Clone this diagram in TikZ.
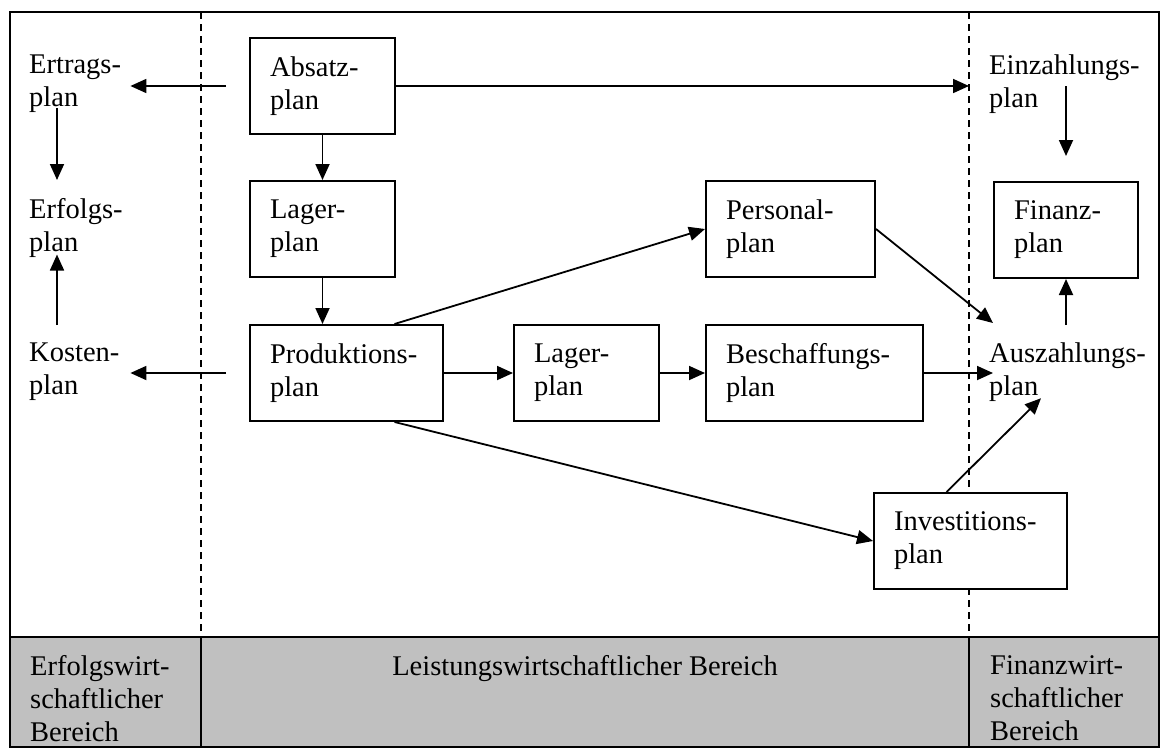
\documentclass[tikz,border=0pt]{standalone}
\usepackage{fontspec}
\setmainfont{Liberation Serif}
\usetikzlibrary{arrows.meta}
\definecolor{bandgray}{RGB}{192,192,192}

\begin{document}
\begin{tikzpicture}[x=1pt,y=-1pt,
  planbox/.style={draw,fill=white,line width=2pt,anchor=north west,align=left,inner xsep=20pt,inner ysep=0pt,
    minimum height=96pt,text width=#1pt,minimum width=#1pt+40pt,font=\fontsize{28.5}{33}\selectfont},
  planlabel/.style={anchor=north west,align=left,inner sep=0pt,text width=#1pt,font=\fontsize{28.5}{33}\selectfont},
  bandlabel/.style={anchor=north west,align=left,inner sep=0pt,font=\fontsize{28.5}{33}\selectfont},
  flow/.style={line width=1.8pt,-{Triangle[length=16pt,width=14pt]}},
  grenze/.style={line width=1.5pt,dash pattern=on 7pt off 5pt}]

\useasboundingbox (0,0) rectangle (1164,747);

\coordinate (linksoben) at (201,12);
\coordinate (linksband) at (201,637);
\coordinate (linksunten) at (201,747);
\coordinate (rechtsoben) at (969,12);
\coordinate (rechtsband) at (969,637);
\coordinate (rechtsunten) at (969,747);

\fill[bandgray] (10,637) rectangle (1159,747);
\draw[line width=2pt] (10,12) rectangle (1159,747);
\draw[line width=2pt] (10,637) -- (1159,637);
\draw[grenze] (linksoben) -- (linksband);
\draw[grenze] (rechtsoben) -- (rechtsband);
\draw[line width=2pt] (linksband) -- (linksunten);
\draw[line width=2pt] (rechtsband) -- (rechtsunten);

\node[planbox=105] (absatz) at (249,37) {Absatz-\\plan};
\node[planbox=105] (lager) at (249,180) {Lager-\\plan};
\node[planbox=153] (produktion) at (249,324) {Produktions-\\plan};
\node[planbox=105] (lagerzwei) at (513,324) {Lager-\\plan};
\node[planbox=177] (beschaffung) at (705,324) {Beschaffungs-\\plan};
\node[planbox=129] (personal) at (705,180) {Personal-\\plan};
\node[planbox=104] (finanz) at (993,181) {Finanz-\\plan};
\node[planbox=153] (invest) at (873,492) {Investitions-\\plan};

\node[planlabel=101] (ertrag) at (29,55) {Ertrags-\\plan};
\node[planlabel=101] (erfolg) at (29,198) {Erfolgs-\\plan};
\node[planlabel=101] (kosten) at (29,343) {Kosten-\\plan};
\node[planlabel=160] (einzahlung) at (989,55) {Einzahlungs-\\plan};
\node[planlabel=160] (auszahlung) at (989,343) {Auszahlungs-\\plan};

\node[bandlabel] (erfolgsbereich) at (30,655) {Erfolgswirt-\\schaftlicher\\Bereich};
\node[bandlabel,anchor=north] (leistungsbereich) at (585,655) {Leistungswirtschaftlicher Bereich};
\node[bandlabel] (finanzbereich) at (990,655) {Finanzwirt-\\schaftlicher\\Bereich};

\draw[flow] ([xshift=-23pt]absatz.west) -- (ertrag.east |- absatz.west);
\draw[flow] (absatz.east) -- (rechtsoben |- absatz.east);
\draw[flow] (absatz) -- (lager);
\draw[flow] (lager.south) -- (lager.south |- produktion.north);
\draw[flow] ([xshift=28pt,yshift=5pt]ertrag.south west) -- ([xshift=28pt,yshift=18pt]erfolg.north west);
\draw[flow] ([xshift=28pt,yshift=18pt]kosten.north west) -- ([xshift=28pt,yshift=3pt]erfolg.south west);
\draw[flow] ([xshift=-23pt]produktion.west) -- (kosten.east |- produktion.west);
\draw[flow] (produktion) -- (lagerzwei);
\draw[flow] (lagerzwei) -- (beschaffung);
\draw[flow] (beschaffung.east) -- ([xshift=4pt]auszahlung.west |- beschaffung.east);
\draw[flow] ([xshift=48pt]produktion.north) -- (personal.west);
\draw[flow] (personal.east) -- ([xshift=4pt,yshift=20pt]auszahlung.north west);
\draw[flow] ([xshift=48pt]produktion.south) -- (invest.west);
\draw[flow] ([xshift=-24pt]invest.north) -- ([xshift=52pt,yshift=4pt]auszahlung.south west);
\draw[flow] (finanz.north |- absatz.east) -- ([yshift=25pt]finanz.north);
\draw[flow] ([yshift=18pt]finanz.south |- auszahlung.north) -- (finanz.south);

\end{tikzpicture}
\end{document}
